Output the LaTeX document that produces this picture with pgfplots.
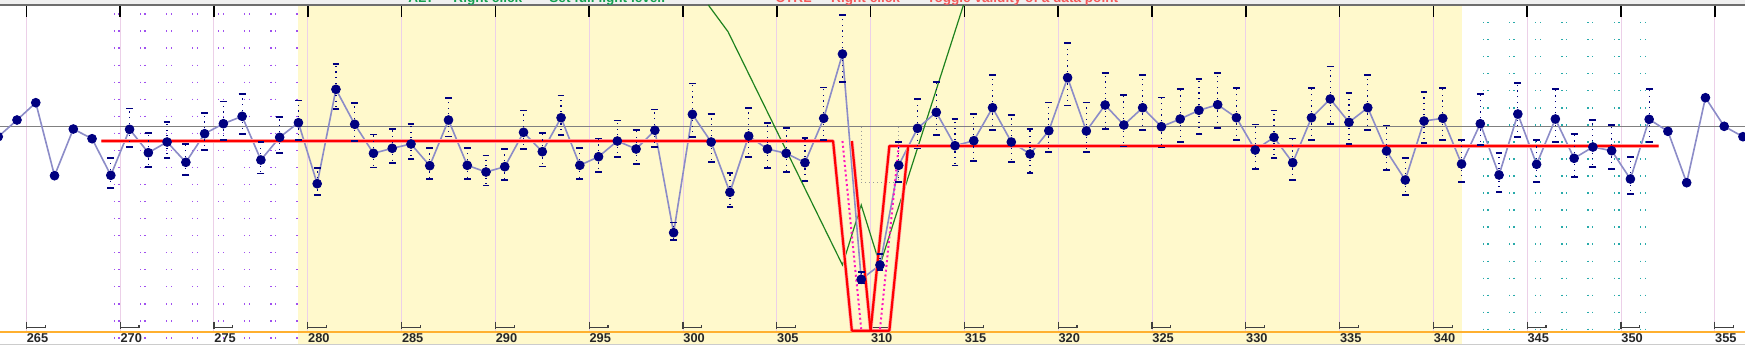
\documentclass[border=0pt]{standalone}
\usepackage{fontspec}
\setmainfont{Liberation Sans}
\usepackage{pgfplots}
\pgfplotsset{compat=1.18}
\usepackage{pgfplotstable}

\definecolor{navy}{RGB}{0,0,128}
\definecolor{ptline}{RGB}{140,140,200}
\definecolor{bgyellow}{RGB}{255,249,204}
\definecolor{gridpink}{RGB}{236,208,232}
\definecolor{dotpurple}{RGB}{160,80,240}
\definecolor{dotteal}{RGB}{40,170,170}
\definecolor{refgray}{RGB}{128,128,128}
\definecolor{topgray}{RGB}{110,110,110}
\definecolor{orangeline}{RGB}{255,176,48}
\definecolor{greenline}{RGB}{30,130,30}
\definecolor{redline}{RGB}{255,0,0}
\definecolor{redhalo}{RGB}{255,175,175}
\definecolor{magentadot}{RGB}{255,20,190}
\definecolor{gtext}{RGB}{20,160,80}
\definecolor{rtext}{RGB}{245,90,90}
\definecolor{strip}{RGB}{240,240,240}

% all points (connecting line)
\pgfplotstableread{
x y
263.5 195.3
264.5 212
265.5 229.3
266.5 156.3
267.5 203
268.5 193.3
269.5 156.7
270.5 202.7
271.5 179.3
272.5 190
273.5 169.7
274.5 198.3
275.5 208.3
276.5 215.7
277.5 172
278.5 194.7
279.5 209.3
280.5 148.3
281.5 242.7
282.5 207.7
283.5 178.7
284.5 183.7
285.5 188
286.5 166.3
287.5 212
288.5 166.7
289.5 160
290.5 165.3
291.5 199.7
292.5 180.3
293.5 214.3
294.5 166.7
295.5 175.3
296.5 191
297.5 183
298.5 201.7
299.5 99.3
300.5 217.7
301.5 190
302.5 139.7
303.5 196
304.5 183
305.5 178.7
306.5 169.3
307.5 213.7
308.5 278
309.5 52.7
310.5 67
311.5 166.7
312.5 203.7
313.5 219.7
314.5 186.3
315.5 191.3
316.5 224.3
317.5 190
318.5 178
319.5 201.3
320.5 254.3
321.5 201
322.5 227
323.5 207
324.5 224.3
325.5 205.3
326.5 213
327.5 221.7
328.5 227.3
329.5 214.3
330.5 182
331.5 194.7
332.5 169.3
333.5 214.3
334.5 233
335.5 209.7
336.5 224.3
337.5 181
338.5 152
339.5 211
340.5 213.7
341.5 168
342.5 208.3
343.5 157
344.5 218
345.5 167.7
346.5 213
347.5 173.7
348.5 185
349.5 181.3
350.5 153
351.5 212.7
352.5 200.7
353.5 149.3
354.5 234.3
355.5 205.7
356.5 195.3
}\allpts

% points without error bars
\pgfplotstableread{
x y
263.5 195.3
264.5 212
265.5 229.3
266.5 156.3
267.5 203
268.5 193.3
352.5 200.7
353.5 149.3
354.5 234.3
355.5 205.7
356.5 195.3
}\plainpts

% points with error bars
\pgfplotstableread{
x y ep em
269.5 156.7 17.6 12.4
270.5 202.7 21.0 17.4
271.5 179.3 19.7 14.0
272.5 190 20.3 15.7
273.5 169.7 18.3 12.7
274.5 198.3 21.0 16.3
275.5 208.3 22.4 16.3
276.5 215.7 22.6 17.7
277.5 172 18.3 13.3
278.5 194.7 20.6 15.4
279.5 209.3 22.4 17.3
280.5 148.3 16.0 11.3
281.5 242.7 25.6 19.7
282.5 207.7 21.6 16.7
283.5 178.7 19.0 14.0
284.5 183.7 19.3 14.4
285.5 188 20.0 14.7
286.5 166.3 18.0 13.3
287.5 212 22.3 16.3
288.5 166.7 17.6 13.7
289.5 160 16.7 13.3
290.5 165.3 18.0 13.3
291.5 199.7 22.0 16.4
292.5 180.3 19.0 14.6
293.5 214.3 22.4 17.3
294.5 166.7 17.3 13.4
295.5 175.3 18.4 15.0
296.5 191 20.7 15.7
297.5 183 19.0 15.0
298.5 201.7 21.0 16.4
299.5 99.3 10.4 7.3
300.5 217.7 31.0 22.4
301.5 190 28.0 19.7
302.5 139.7 19.6 14.4
303.5 196 28.0 20.7
304.5 183 26.3 19.0
305.5 178.7 25.3 18.4
306.5 169.3 25.0 18.0
307.5 213.7 31.0 21.7
308.5 278 39.0 27.7
309.5 52.7 7.6 4.0
310.5 67 11.0 5.0
311.5 166.7 23.6 16.4
312.5 203.7 29.3 20.0
313.5 219.7 30.6 22.7
314.5 186.3 26.7 19.6
315.5 191.3 26.7 20.0
316.5 224.3 32.7 22.3
317.5 190 27.0 20.0
318.5 178 25.0 18.7
319.5 201.3 28.4 21.3
320.5 254.3 35.0 27.6
321.5 201 28.7 21.0
322.5 227 32.3 24.0
323.5 207 30.0 21.3
324.5 224.3 32.7 22.3
325.5 205.3 29.4 20.6
326.5 213 30.0 22.7
327.5 221.7 31.3 23.7
328.5 227.3 32.0 23.0
329.5 214.3 30.0 22.3
330.5 182 25.7 19.0
331.5 194.7 27.0 20.4
332.5 169.3 24.4 17.3
333.5 214.3 30.0 22.3
334.5 233 32.7 25.0
335.5 209.7 29.6 21.7
336.5 224.3 33.0 22.0
337.5 181 25.7 19.0
338.5 152 22.0 15.0
339.5 211 29.3 21.7
340.5 213.7 30.6 21.7
341.5 168 24.0 17.7
342.5 208.3 30.0 21.3
343.5 157 22.3 16.7
344.5 218 31.3 22.7
345.5 167.7 24.3 17.4
346.5 213 30.3 22.7
347.5 173.7 24.3 18.4
348.5 185 27.0 19.7
349.5 181.3 25.7 18.3
350.5 153 22.3 15.0
351.5 212.7 30.6 22.4
}\errpts

\begin{document}
\begin{tikzpicture}
\begin{axis}[
  set layers=standard,
  x=9.38pt, y=0.5pt,
  xmin=263.593, xmax=356.61, ymin=-13, ymax=332,
  axis line style={draw=none},
  xtick={265,270,...,355}, ytick=\empty,
  major tick length=0pt,
  /pgf/number format/assume math mode=true,
  xticklabel style={anchor=base west, inner sep=0pt, yshift=1.5pt,
    font=\fontsize{6.4}{7}\selectfont\bfseries, text=black!85},
  clip=false,
]
\begin{pgfonlayer}{axis background}
% backgrounds
\fill[white] (rel axis cs:0,0) rectangle (rel axis cs:1,1);
\fill[strip] (axis cs:263.593,328) rectangle (axis cs:356.61,332);
% dotted grids
\pgfplotsinvokeforeach{0,...,7}{
  \draw[dotpurple, line width=0.65pt, dash pattern=on 0.65pt off 7.875pt]
    (axis cs:{269.686+1.3913*#1},318.65) -- (axis cs:{269.686+1.3913*#1},-8);
  \draw[dotpurple, line width=0.65pt, dash pattern=on 0.65pt off 7.875pt]
    (axis cs:{269.936+1.3913*#1},318.65) -- (axis cs:{269.936+1.3913*#1},-8);
  \draw[dotteal, line width=0.65pt, dash pattern=on 0.65pt off 7.867pt]
    (axis cs:{341.26+1.3966*#1},309.95) -- (axis cs:{341.26+1.3966*#1},0);
  \draw[dotteal, line width=0.65pt, dash pattern=on 0.65pt off 7.867pt]
    (axis cs:{341.51+1.3966*#1},309.95) -- (axis cs:{341.51+1.3966*#1},0);
}
\fill[bgyellow] (axis cs:279.5,-13) rectangle (axis cs:341.5,327.3);
\end{pgfonlayer}
% grid lines and frame
\pgfplotsinvokeforeach{265,270,...,355}{
  \draw[gridpink, line width=0.5pt] (axis cs:#1,0) -- (axis cs:#1,327);
  \draw[black, line width=0.75pt] (axis cs:#1,327.3) -- (axis cs:#1,314.7);
  \draw[black!75, line width=0.6pt] (axis cs:#1,10.3) -- (axis cs:#1,2.7);
  \draw[black!75, line width=0.6pt] (axis cs:#1,4.7) -- (axis cs:{#1+1},4.7);
  \draw[black!75, line width=0.6pt] (axis cs:{#1+1},3.7) -- (axis cs:{#1+1},7.3);
}
\draw[topgray, line width=0.8pt] (axis cs:263.593,327.3) -- (axis cs:356.61,327.3);
\draw[orangeline, line width=0.9pt] (axis cs:263.593,0.3) -- (axis cs:356.61,0.3);
\draw[black!20, line width=0.5pt] (axis cs:263.593,-12) -- (axis cs:356.61,-12);
% cut-off hint texts at the top
\node[anchor=base west, inner sep=0pt, font=\fontsize{6.8}{8}\selectfont\bfseries, text=gtext]
  at (axis cs:285.34,330) {ALT\ \ -\ \ Right click\ \ \ -\ \ \ Set full light level.};
\node[anchor=base west, inner sep=0pt, font=\fontsize{6.8}{8}\selectfont\bfseries, text=rtext]
  at (axis cs:304.90,330) {CTRL\ \ -\ \ Right click\ \ \ -\ \ \ Toggle validity of a data point};
% reference level
\addplot[refgray, line width=0.6pt, mark=none] coordinates {(263.593,205.3) (356.61,205.3)};
\addplot[refgray!80, line width=0.5pt, dash pattern=on 0.5pt off 1.5pt, mark=none]
  coordinates {(309.5,205.3) (309.5,149.3) (311.5,149.3) (311.5,205.3)};
% green light-level line
\addplot[greenline, line width=0.6pt, mark=none]
  coordinates {(301.35,327) (302.4,300.3) (308.5,67) (309.5,127) (310.5,67) (314.95,327)};
% connecting line
\addplot[ptline, line width=0.8pt, mark=none] table[x=x,y=y]{\allpts};
% red limits
\addplot[redhalo, line width=1.8pt, mark=none, line join=round]
  coordinates {(269,191) (308,191) (309,1.3) (310,1.3) (311,186) (352,186)};
\addplot[redhalo, line width=1.8pt, mark=none, line join=round]
  coordinates {(309,191) (310,1.3) (311,1.3) (312,186)};
\addplot[redline, line width=1.1pt, mark=none, line join=round]
  coordinates {(269,191) (308,191) (309,1.3) (310,1.3) (311,186) (352,186)};
\addplot[redline, line width=1.1pt, mark=none, line join=round]
  coordinates {(309,191) (310,1.3) (311,1.3) (312,186)};
\addplot[magentadot, line width=1pt, dash pattern=on 1pt off 1.4pt, mark=none]
  coordinates {(308.5,191) (309.5,3)};
\addplot[magentadot, line width=1pt, dash pattern=on 1pt off 1.4pt, mark=none]
  coordinates {(310.5,3) (311.5,186)};
% data points
\addplot[only marks, mark=*, mark size=2.2pt, color=navy,
  error bars/.cd, y dir=both, y explicit,
  error bar style={navy, line width=0.6pt, dash pattern=on 0.6pt off 2.2pt},
  error mark options={navy, solid, line width=0.8pt, mark size=1.7pt, rotate=90}]
  table[x=x, y=y, y error plus=ep, y error minus=em]{\errpts};
\addplot[only marks, mark=*, mark size=2.2pt, color=navy] table[x=x,y=y]{\plainpts};
\end{axis}
\pgfresetboundingbox
\path[use as bounding box] (current axis.south west) rectangle (current axis.north east);
\end{tikzpicture}
\end{document}
